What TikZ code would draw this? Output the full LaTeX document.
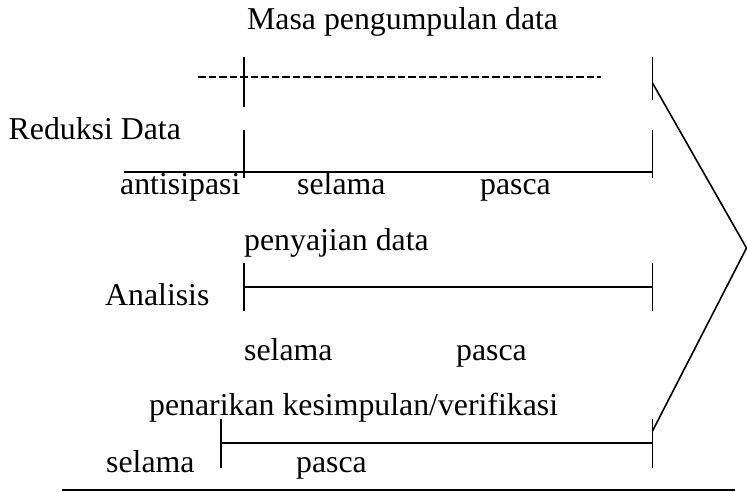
\documentclass[tikz,border=0pt]{standalone}
\usepackage{fontspec}
\setmainfont{Liberation Serif}
\begin{document}
\begin{tikzpicture}[x=1pt,y=-1pt,
  lbl/.style={inner sep=0pt,anchor=base west,font=\fontsize{31.8}{38}\selectfont},
  ln/.style={line width=1.6pt,line cap=butt},
  dashln/.style={line width=1.7pt,dash pattern=on 7.5pt off 3pt}]
\useasboundingbox (0,0) rectangle (747,492);
% texts
\node[lbl] (title) at (247,30) {Masa pengumpulan data};
\node[lbl] (reduksi) at (8.5,139.5) {Reduksi Data};
\node[lbl] (antis) at (120,194) {antisipasi};
\node[lbl] (sel1) at (297,194) {selama};
\node[lbl] (pas1) at (480,194) {pasca};
\node[lbl] (penyajian) at (244,250) {penyajian data};
\node[lbl] (analisis) at (105,305) {Analisis};
\node[lbl] (sel2) at (244,360) {selama};
\node[lbl] (pas2) at (456,360) {pasca};
\node[lbl] (penarikan) at (149,415) {penarikan kesimpulan/verifikasi};
\node[lbl] (sel3) at (106,472) {selama};
\node[lbl] (pas3) at (296,472) {pasca};
% coordinates
\coordinate (d1) at (198,77);  \coordinate (d2) at (601,77);
\coordinate (la1) at (244,57); \coordinate (la2) at (244,107);
\coordinate (lb1) at (244,130); \coordinate (lb2) at (244,178);
\coordinate (ra1) at (652.5,57); \coordinate (ra2) at (652.5,100);
\coordinate (rb1) at (652.5,130); \coordinate (rb2) at (652.5,178);
\coordinate (h1a) at (124,172); \coordinate (h1b) at (652.5,172);
\coordinate (lc1) at (244,263); \coordinate (lc2) at (244,311);
\coordinate (rc1) at (652.5,263); \coordinate (rc2) at (652.5,311);
\coordinate (h2a) at (244,287); \coordinate (h2b) at (652.5,287);
\coordinate (ld1) at (221,419); \coordinate (ld2) at (221,468);
\coordinate (rd1) at (652.5,419); \coordinate (rd2) at (652.5,468);
\coordinate (h3a) at (221,443); \coordinate (h3b) at (652.5,443);
\coordinate (g1) at (652.5,83); \coordinate (apex) at (746.5,248); \coordinate (g2) at (652.5,431);
\coordinate (b1) at (62,490); \coordinate (b2) at (735,490);
% lines
\draw[dashln] (d1) -- (d2);
\draw[ln] (la1) -- (la2);
\draw[ln] (lb1) -- (lb2);
\draw[ln] (ra1) -- (ra2);
\draw[ln] (rb1) -- (rb2);
\draw[ln] (h1a) -- (h1b);
\draw[ln] (lc1) -- (lc2);
\draw[ln] (rc1) -- (rc2);
\draw[ln] (h2a) -- (h2b);
\draw[ln] (ld1) -- (ld2);
\draw[ln] (rd1) -- (rd2);
\draw[ln] (h3a) -- (h3b);
\draw[ln] (g1) -- (apex) -- (g2);
\draw[ln] (b1) -- (b2);
\end{tikzpicture}
\end{document}
